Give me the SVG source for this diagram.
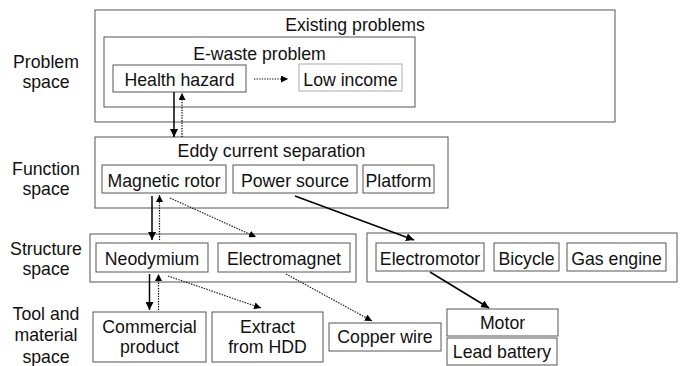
<svg xmlns="http://www.w3.org/2000/svg" width="684" height="366" viewBox="0 0 684 366">
<defs>
<marker id="ah" viewBox="0 0 10 10" refX="10" refY="5" markerWidth="7" markerHeight="7" markerUnits="userSpaceOnUse" orient="auto"><path d="M0,0 L10,5 L0,10 z" fill="#000"/></marker>
<marker id="ahs" viewBox="0 0 10 10" refX="10" refY="5" markerWidth="8" markerHeight="8" markerUnits="userSpaceOnUse" orient="auto"><path d="M0,0 L10,5 L0,10 z" fill="#000"/></marker>
<style>
rect{fill:#fff;stroke:#555;stroke-width:1}
rect.light{stroke:#aaa}
text{font-family:"Liberation Sans",Arial,sans-serif;font-size:17.7px;fill:#111;text-anchor:middle}
.solid{stroke:#000;stroke-width:1.5;fill:none;marker-end:url(#ahs)}
.dot{stroke:#000;stroke-width:1.2;stroke-dasharray:1.3 1.3;fill:none;marker-end:url(#ah)}
.dot2{stroke:#222;stroke-width:1.2;stroke-dasharray:1.5 1.2;fill:none;marker-end:url(#ah)}
</style>
</defs>
<rect x="0" y="0" width="684" height="366" style="fill:#fff;stroke:none"/>
<g id="labels">
<text x="46" y="68">Problem</text><text x="46" y="88">space</text>
<text x="46" y="175">Function</text><text x="46" y="195">space</text>
<text x="46" y="255">Structure</text><text x="46" y="275">space</text>
<text x="46" y="320">Tool and</text><text x="46" y="341">material</text><text x="46" y="363">space</text>
</g>
<g id="existing-problems"><rect x="95" y="10" width="520" height="112"/><text x="355" y="31">Existing problems</text></g>
<g id="e-waste"><rect x="104" y="37" width="311" height="70"/><text x="259.5" y="60">E-waste problem</text></g>
<g id="health-hazard"><rect x="113" y="65" width="133" height="27"/><text x="179.5" y="86">Health hazard</text></g>
<g id="low-income"><rect class="light" x="299" y="64" width="103" height="27"/><text x="350.5" y="86">Low income</text></g>
<g id="eddy"><rect x="95" y="137" width="353" height="71"/><text x="271.5" y="157">Eddy current separation</text></g>
<g id="magnetic-rotor"><rect x="102" y="165" width="124" height="28"/><text x="164" y="187">Magnetic rotor</text></g>
<g id="power-source"><rect x="233" y="165" width="124" height="28"/><text x="295" y="187">Power source</text></g>
<g id="platform"><rect x="363" y="165" width="71" height="28"/><text x="398.5" y="187">Platform</text></g>
<g id="structure-left"><rect x="90" y="234" width="266" height="48"/></g>
<g id="neodymium"><rect x="96" y="243" width="112" height="29"/><text x="152" y="265">Neodymium</text></g>
<g id="electromagnet"><rect x="218" y="243" width="132" height="29"/><text x="284" y="265">Electromagnet</text></g>
<g id="structure-right"><rect x="367" y="233" width="310" height="49"/></g>
<g id="electromotor"><rect x="376" y="243" width="108" height="28"/><text x="430" y="265">Electromotor</text></g>
<g id="bicycle"><rect x="494" y="243" width="65" height="28"/><text x="526.5" y="265">Bicycle</text></g>
<g id="gas-engine"><rect x="567" y="243" width="99" height="28"/><text x="616.5" y="265">Gas engine</text></g>
<g id="commercial-product"><rect x="93" y="312" width="113" height="50"/><text x="149.5" y="333">Commercial</text><text x="149.5" y="353">product</text></g>
<g id="extract-hdd"><rect x="212" y="312" width="111" height="50"/><text x="267.5" y="333">Extract</text><text x="267.5" y="353">from HDD</text></g>
<g id="copper-wire"><rect x="329" y="323" width="112" height="28"/><text x="385" y="343">Copper wire</text></g>
<g id="motor"><rect x="447" y="309" width="111" height="27"/><text x="502.5" y="329">Motor</text></g>
<g id="lead-battery"><rect x="447" y="338" width="110" height="27"/><text x="502" y="358">Lead battery</text></g>
<g id="connectors">
<line class="dot" x1="254" y1="79" x2="288" y2="79"/>
<line class="solid" x1="174" y1="92" x2="174" y2="137"/>
<line class="dot" x1="182" y1="137" x2="182" y2="93"/>
<line class="solid" x1="152" y1="196" x2="152" y2="240"/>
<line class="dot" x1="159.5" y1="240" x2="159.5" y2="195"/>
<line class="dot2" x1="170" y1="198" x2="256" y2="237"/>
<line class="solid" x1="295" y1="196" x2="414" y2="240"/>
<line class="solid" x1="149.5" y1="274" x2="149.5" y2="310"/>
<line class="dot" x1="158.5" y1="310" x2="158.5" y2="274"/>
<line class="dot2" x1="168" y1="276" x2="261" y2="308"/>
<line class="dot2" x1="286" y1="274" x2="372" y2="321"/>
<line class="solid" x1="430" y1="272" x2="489" y2="308"/>
</g>
</svg>
